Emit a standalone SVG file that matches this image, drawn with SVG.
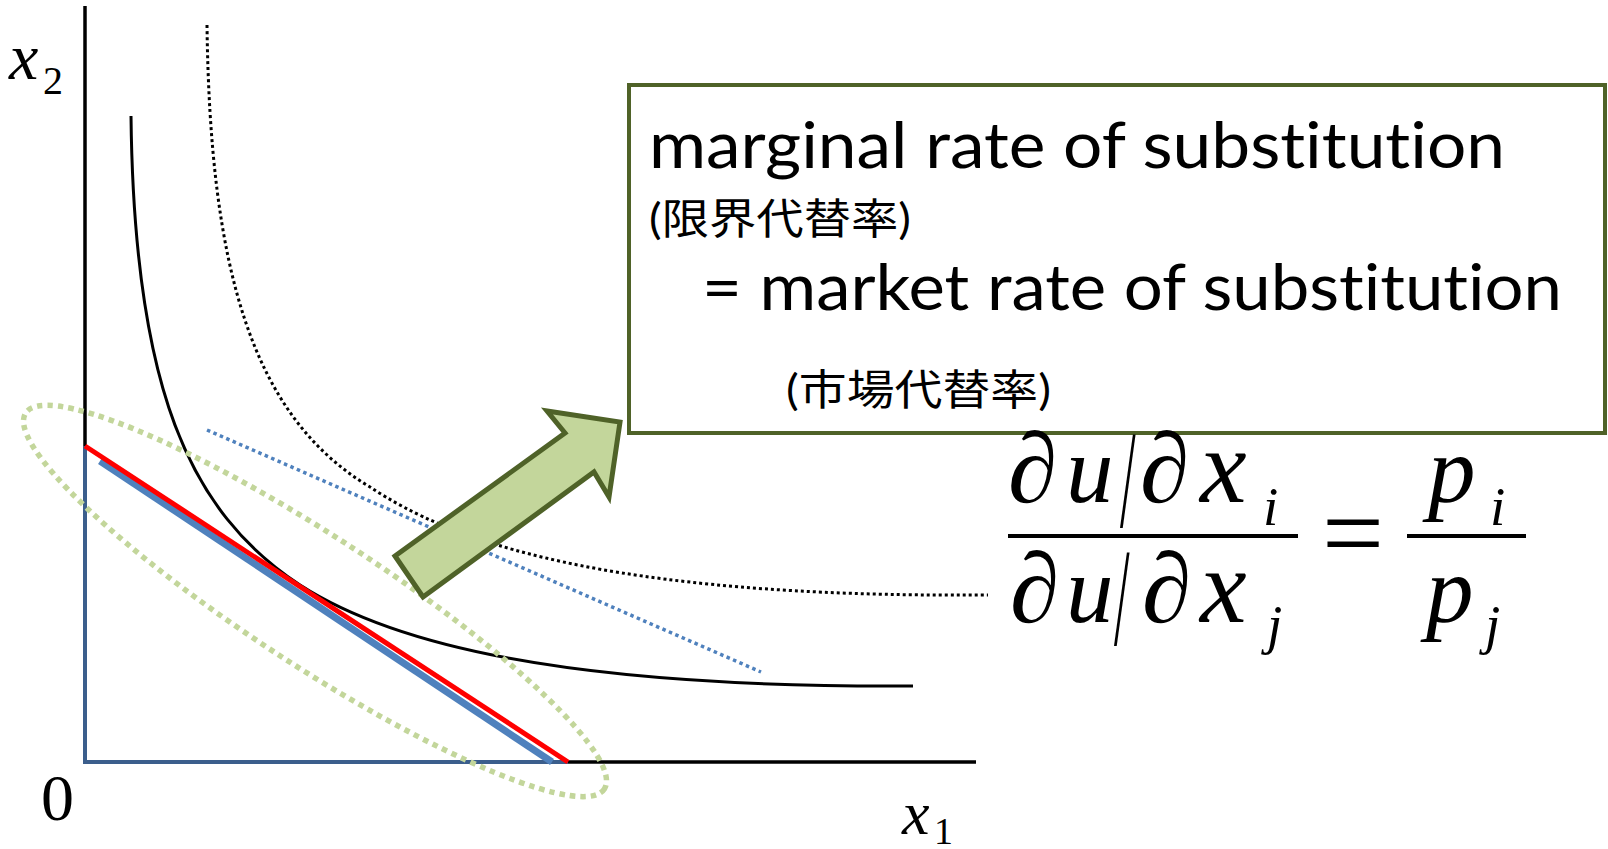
<svg xmlns="http://www.w3.org/2000/svg" width="1608" height="849" viewBox="0 0 1608 849">
<style>
.ax{stroke:#000;stroke-width:3.5;fill:none}
.axb{stroke:#3b5e8c;stroke-width:4;fill:none}
.ic{stroke:#000;stroke-width:3;fill:none}
.icd{stroke:#000;stroke-width:3;fill:none;stroke-dasharray:3 3}
.bdot{stroke:#4f81bd;stroke-width:3.5;fill:none;stroke-dasharray:3.5 3.5}
.ell{stroke:#c3d69b;stroke-width:5.5;fill:none;stroke-dasharray:5.5 5}
.math{font-family:"Liberation Serif","Times New Roman",serif;font-style:italic;fill:#000}
.mup{font-family:"Liberation Serif","Times New Roman",serif;fill:#000}
.en{font-family:Lato,"Noto Sans",sans-serif;fill:#000;font-variant-ligatures:none}
.jp{font-family:Lato,"Noto Sans CJK JP",sans-serif;fill:#000}
</style>
<rect width="1608" height="849" fill="#fff"/>
<g id="axes">
  <line class="ax" x1="85" y1="6" x2="85" y2="447"/>
  <line class="axb" x1="85" y1="446" x2="85" y2="762"/>
  <line class="axb" x1="83" y1="762" x2="568" y2="762"/>
  <line class="ax" x1="568" y1="762" x2="976" y2="762"/>
  <text class="math" x="9" y="79" font-size="66">x</text>
  <text class="mup" x="43" y="94" font-size="40">2</text>
  <text class="math" x="902" y="834" font-size="62">x</text>
  <text class="mup" x="934" y="844" font-size="38">1</text>
  <text class="mup" x="41" y="820" font-size="66">0</text>
</g>
<g id="curves">
  <path class="ic" d="M131,116 C134,388 189,512 300,585 C390,643 560,688 913,686"/>
  <path class="icd" d="M207,25 C210,267 251,416 370,487 C450,540 600,598 988,595"/>
  <line class="bdot" x1="207" y1="430" x2="761" y2="672"/>
</g>
<g id="budget">
  <line stroke="#4f81bd" stroke-width="7" x1="100" y1="461" x2="552" y2="762"/>
  <line stroke="#ff0000" stroke-width="5" x1="85" y1="446" x2="568" y2="762"/>
</g>
<g id="highlight">
  <ellipse class="ell" cx="315" cy="601" rx="345" ry="65" transform="rotate(33 315 601)"/>
</g>
<g id="connectors">
  <path d="M395,556 L565,433 L547,411 L620,422 L609,497 L594,472 L423,597 Z" fill="#c3d69b" stroke="#4f6228" stroke-width="5" stroke-linejoin="miter"/>
</g>
<g id="textbox">
  <rect x="629" y="85" width="976" height="348" fill="#fff" stroke="#4f6228" stroke-width="4"/>
  <text class="en" x="649" y="168" font-size="64" textLength="856" lengthAdjust="spacingAndGlyphs">marginal rate of substitution</text>
  <text class="jp" x="649" y="234" font-size="42" textLength="262" lengthAdjust="spacingAndGlyphs">(限界代替率)</text>
  <text class="en" x="702" y="310" font-size="64" textLength="860" lengthAdjust="spacingAndGlyphs">= market rate of substitution</text>
  <text class="jp" x="786" y="405" font-size="42" textLength="265" lengthAdjust="spacingAndGlyphs">(市場代替率)</text>
</g>
<g id="formula">
  <text class="mup" x="1008" y="502" font-size="100">∂</text>
  <text class="math" x="1066" y="502" font-size="95">u</text>
  <text class="mup" font-size="140" transform="translate(1120,527) scale(0.4,1)">/</text>
  <text class="mup" x="1140" y="502" font-size="100">∂</text>
  <text class="math" x="1200" y="502" font-size="105">x</text>
  <text class="math" x="1263" y="525" font-size="55">i</text>
  <line stroke="#000" stroke-width="4" x1="1008" y1="536" x2="1298" y2="536"/>
  <text class="mup" x="1010" y="622" font-size="100">∂</text>
  <text class="math" x="1066" y="622" font-size="95">u</text>
  <text class="mup" font-size="140" transform="translate(1114,645) scale(0.4,1)">/</text>
  <text class="mup" x="1142" y="622" font-size="100">∂</text>
  <text class="math" x="1200" y="622" font-size="105">x</text>
  <text class="math" x="1267" y="643" font-size="55">j</text>
  <text class="mup" x="1322" y="570" font-size="110">=</text>
  <text class="math" x="1428" y="502" font-size="95">p</text>
  <text class="math" x="1490" y="525" font-size="55">i</text>
  <line stroke="#000" stroke-width="4" x1="1407" y1="536" x2="1526" y2="536"/>
  <text class="math" x="1426" y="622" font-size="95">p</text>
  <text class="math" x="1485" y="643" font-size="55">j</text>
</g>
</svg>
